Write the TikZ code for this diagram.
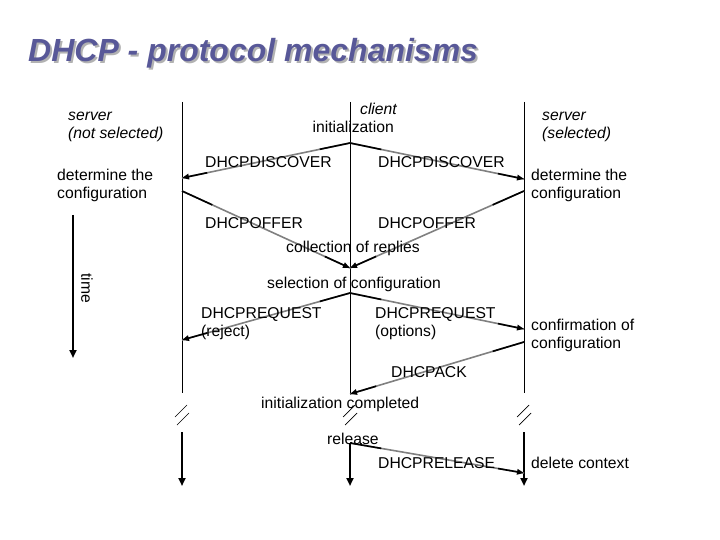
\documentclass[tikz,border=0pt]{standalone}
\usepackage{fontspec}
\setmainfont{Liberation Sans}
\usetikzlibrary{arrows.meta,calc}
\definecolor{titleblue}{RGB}{88,88,152}
\definecolor{midgray}{RGB}{128,128,128}
\begin{document}
\begin{tikzpicture}[x=1pt,y=-1pt,
  lbl/.style={anchor=mid west,inner sep=0pt,font=\fontsize{15.7}{18}\selectfont},
  ilbl/.style={lbl,font=\fontsize{15.7}{18}\selectfont\itshape},
  life/.style={line width=0.9pt},
  thick arrow/.style={line width=2.4pt,-{Triangle[length=8pt,width=7pt]}},
  msggray/.style={line width=1.6pt,midgray},
  msgblack/.style={line width=1.6pt,black},
  tip/.style={-{Triangle[length=7pt,width=5.5pt]}},
  brk/.style={line width=0.7pt}]
\useasboundingbox (0,0) rectangle (720,540);
% title
\node[anchor=base west,inner sep=0pt,text=black!30,font=\fontsize{32}{36}\bfseries\itshape\selectfont] (titleshadow) at (30,64) {DHCP - protocol mechanisms};
\node[anchor=base west,inner sep=0pt,text=titleblue,font=\fontsize{32}{36}\bfseries\itshape\selectfont] (title) at (28,62) {DHCP - protocol mechanisms};
% lifelines
\coordinate (Ltop) at (182,102); \coordinate (Lbot) at (182,393);
\coordinate (Ctop) at (350,102); \coordinate (Cbot) at (350,395);
\coordinate (Rtop) at (524,102); \coordinate (Rbot) at (524,393);
\draw[life] (Ltop) -- (Lbot);
\draw[life] (Ctop) -- (Cbot);
\draw[life] (Rtop) -- (Rbot);
% break marks
\foreach \x in {182,350,524}{
  \draw[brk] (\x-7,417) -- (\x+5,405);
  \draw[brk] (\x-5,425) -- (\x+7,413);
}
% lower thick arrows
\coordinate (Llow) at (182,432); \coordinate (Lend) at (182,486);
\coordinate (Clow) at (350,443); \coordinate (Cend) at (350,486);
\coordinate (Rlow) at (524,432); \coordinate (Rend) at (524,486);
\draw[thick arrow] (Llow) -- (Lend);
\draw[thick arrow] (Clow) -- (Cend);
\draw[thick arrow] (Rlow) -- (Rend);
% time arrow
\coordinate (Ttop) at (73,215); \coordinate (Tbot) at (73,358);
\draw[thick arrow,line width=2pt] (Ttop) -- (Tbot);
\node[rotate=-90,inner sep=0pt,font=\fontsize{15.7}{18}\selectfont] (time) at (87,288) {time};
% message arrows
\newcommand{\dhcpmsg}[2]{%
  \draw[msggray] (#1) -- (#2);
  \draw[msgblack] (#1) -- ($(#1)!0.18!(#2)$);
  \draw[msgblack,tip] ($(#1)!0.85!(#2)$) -- (#2);}
\coordinate (d0) at (350,143); \coordinate (dL) at (182,178); \coordinate (dR) at (524,179);
\coordinate (oL) at (182,191); \coordinate (oR) at (524,191); \coordinate (o0) at (350,268);
\coordinate (q0) at (350,293); \coordinate (qL) at (182,340); \coordinate (qR) at (524,329);
\coordinate (aR) at (524,342); \coordinate (a0) at (350,394);
\coordinate (r0) at (350,443); \coordinate (rR) at (524,473);
\dhcpmsg{d0}{dL}
\dhcpmsg{d0}{dR}
\dhcpmsg{oL}{o0}
\dhcpmsg{oR}{o0}
\dhcpmsg{q0}{qL}
\dhcpmsg{q0}{qR}
\dhcpmsg{aR}{a0}
\dhcpmsg{r0}{rR}
% labels
\node[ilbl] (s1a) at (68,118) {server};
\node[ilbl] (s1b) at (68,136) {(not selected)};
\node[ilbl,anchor=mid east] (c1) at (397,112) {client};
\node[lbl,anchor=mid east] (c2) at (394,130) {initialization};
\node[ilbl] (s2a) at (542,118) {server};
\node[ilbl] (s2b) at (542,136) {(selected)};
\node[lbl] (det1a) at (57,178) {determine the};
\node[lbl] (det1b) at (57,196) {configuration};
\node[lbl] (dis1) at (205,165) {DHCPDISCOVER};
\node[lbl] (dis2) at (378,165) {DHCPDISCOVER};
\node[lbl] (det2a) at (531,178) {determine the};
\node[lbl] (det2b) at (531,196) {configuration};
\node[lbl] (off1) at (205,226) {DHCPOFFER};
\node[lbl] (off2) at (378,226) {DHCPOFFER};
\node[lbl] (coll) at (286,250) {collection of replies};
\node[lbl] (sel) at (267,286) {selection of configuration};
\node[lbl] (req1a) at (201,316) {DHCPREQUEST};
\node[lbl] (req1b) at (201,334) {(reject)};
\node[lbl] (req2a) at (375,316) {DHCPREQUEST};
\node[lbl] (req2b) at (375,334) {(options)};
\node[lbl] (conf1) at (531,328) {confirmation of};
\node[lbl] (conf2) at (531,346) {configuration};
\node[lbl] (ack) at (391,375) {DHCPACK};
\node[lbl] (icomp) at (261,406) {initialization completed};
\node[lbl] (rel) at (327,442) {release};
\node[lbl] (drel) at (378,466) {DHCPRELEASE};
\node[lbl] (del) at (531,466) {delete context};
\end{tikzpicture}
\end{document}
